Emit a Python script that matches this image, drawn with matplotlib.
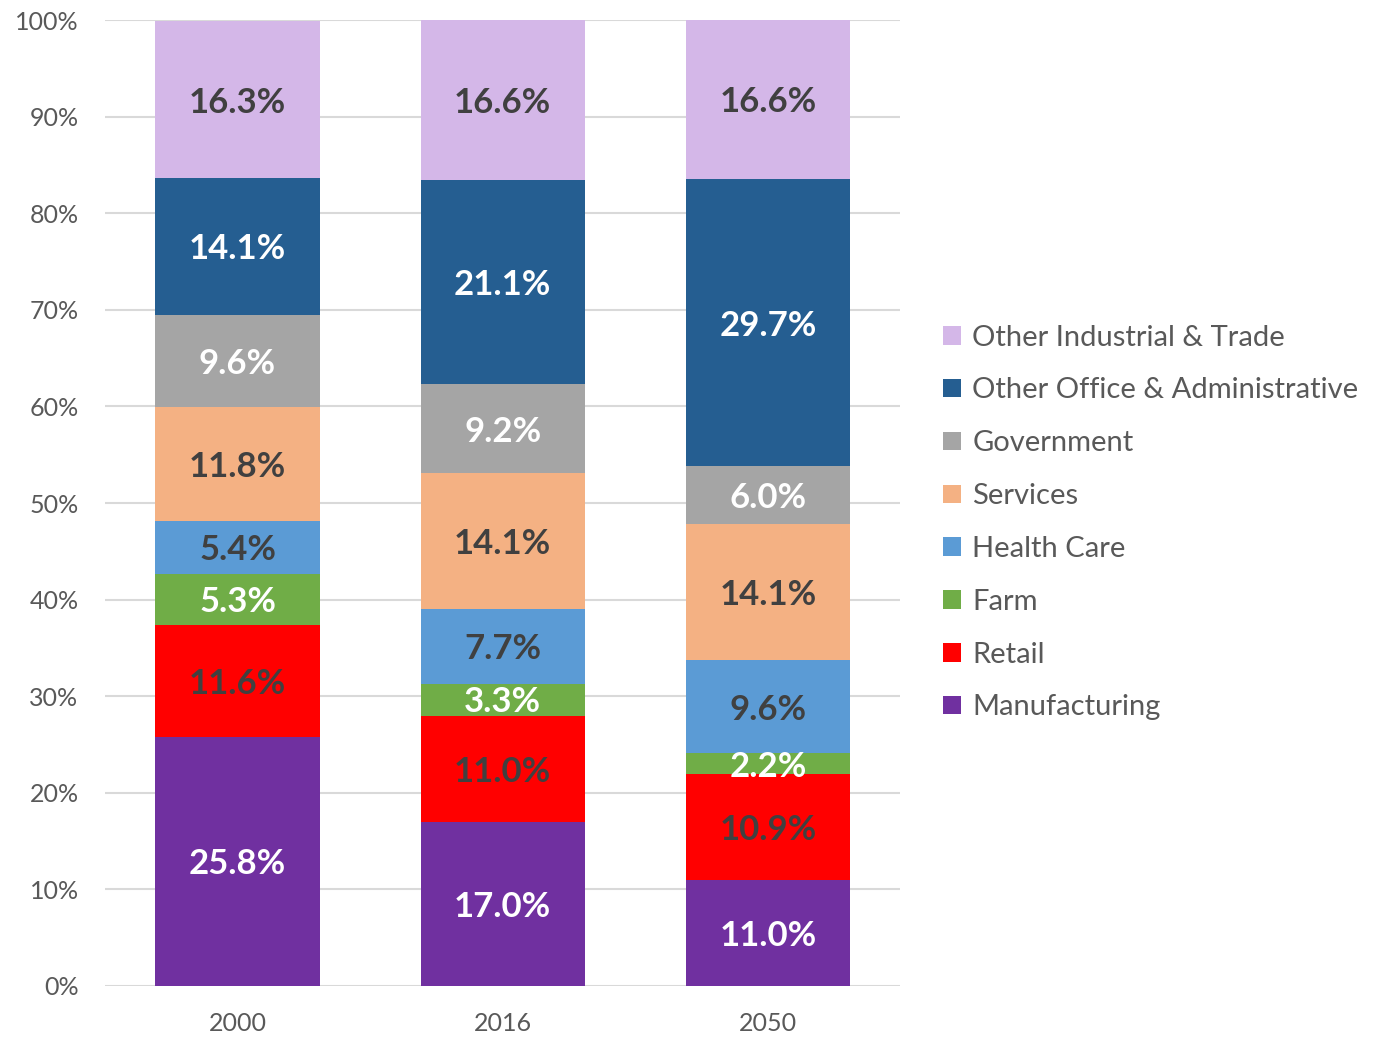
import numpy as np
import matplotlib.pyplot as plt

plt.rcParams['font.family'] = ['Lato', 'DejaVu Sans']

years = ["2000", "2016", "2050"]
categories = ["Manufacturing", "Retail", "Farm", "Health Care", "Services",
              "Government", "Other Office & Administrative", "Other Industrial & Trade"]

manufacturing = [25.8, 17.0, 11.0]
retail = [11.6, 11.0, 10.9]
farm = [5.3, 3.3, 2.2]
health_care = [5.4, 7.7, 9.6]
services = [11.8, 14.1, 14.1]
government = [9.6, 9.2, 6.0]
other_office = [14.1, 21.1, 29.7]
other_industrial = [16.3, 16.6, 16.6]

series = [manufacturing, retail, farm, health_care, services,
          government, other_office, other_industrial]
colors = ["#7030A0", "#FF0000", "#70AD47", "#5B9BD5", "#F4B183",
          "#A5A5A5", "#255E91", "#D4B7E8"]
label_colors = ["white", "#404040", "white", "#404040", "#404040",
                "white", "white", "#404040"]

fig = plt.figure(figsize=(13.83, 10.38), dpi=100)
ax = fig.add_axes([0.0759, 0.0501, 0.5752, 0.9306])

x = np.arange(len(years))
bottom = np.zeros(len(years))
handles = []
for name, vals, col, lc in zip(categories, series, colors, label_colors):
    vals = np.array(vals)
    b = ax.bar(x, vals, 0.62, bottom=bottom, color=col, label=name, zorder=2)
    handles.append(b)
    for xi, v, bt in zip(x, vals, bottom):
        ax.text(xi, bt + v / 2 - 0.3, f"{v:.1f}%", ha="center", va="center",
                color=lc, fontsize=25, fontweight="bold", zorder=3)
    bottom += vals

ax.set_xlim(-0.5, 2.5)
ax.set_ylim(0, 100)
ax.set_yticks(np.arange(0, 101, 10))
ax.set_yticklabels([f"{t}%" for t in range(0, 101, 10)])
ax.set_xticks(x)
ax.set_xticklabels(years)
ax.yaxis.grid(True, color="#D9D9D9", linewidth=1.5, zorder=0)
ax.set_axisbelow(True)
for s in ax.spines.values():
    s.set_visible(False)
ax.tick_params(axis="both", length=0, labelsize=18, colors="#595959", pad=19)

fig.legend(handles[::-1], categories[::-1], loc="center left",
           bbox_to_anchor=(0.682, 0.4966), frameon=False, fontsize=21,
           labelcolor="#595959", handlelength=0.6, handleheight=0.6,
           handletextpad=0.4, labelspacing=0.92, borderpad=0, borderaxespad=0)

fig.savefig("out.png", dpi=100)
